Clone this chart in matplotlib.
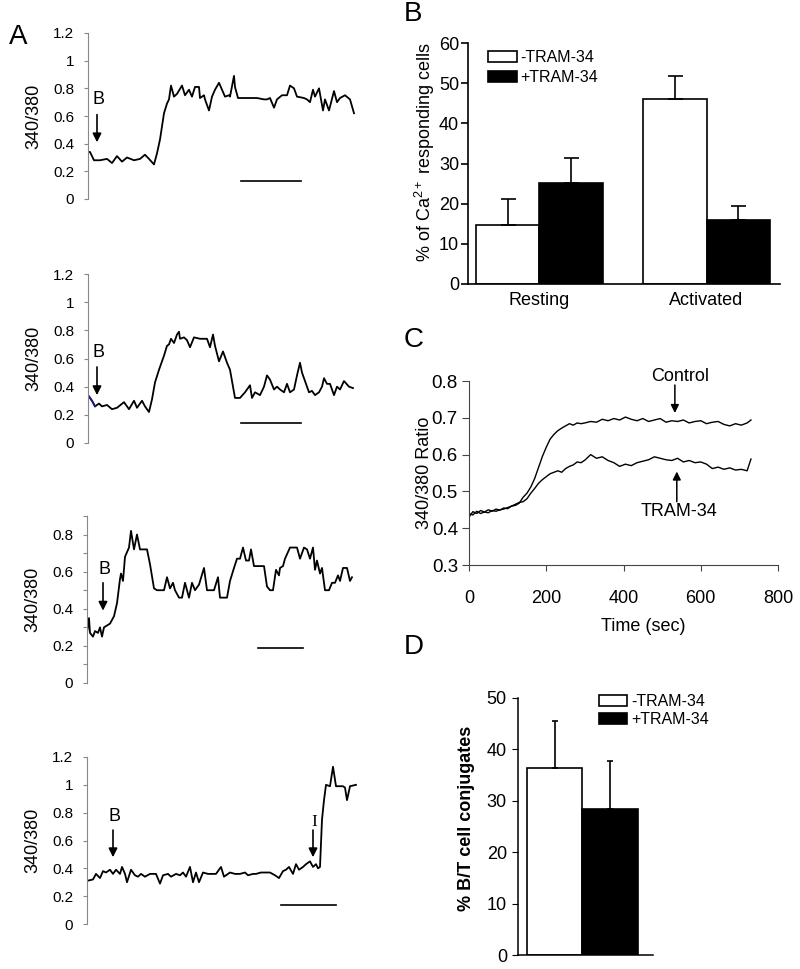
import matplotlib
matplotlib.use('Agg')
import matplotlib.pyplot as plt
from matplotlib.patches import Patch
import numpy as np

plt.rcParams['font.family'] = ['Liberation Sans', 'DejaVu Sans']
plt.rcParams['mathtext.fontset'] = 'custom'
plt.rcParams['mathtext.rm'] = 'Liberation Sans'
plt.rcParams['mathtext.it'] = 'Liberation Sans:italic'
plt.rcParams['mathtext.bf'] = 'Liberation Sans:bold'

# ---- panel A: single cell traces (time in arbitrary units) ----
a1_t = [0, 2, 6, 12, 19, 24, 29, 34, 39, 46, 52, 57, 61, 66, 69, 72, 76, 79, 81, 83,
        86, 89, 94, 97, 101, 104, 107, 111, 112, 116, 117, 121, 124, 127, 131, 134, 137, 141, 142, 146,
        147, 150, 156, 169, 176, 179, 182, 186, 189, 194, 199, 202, 206, 209, 216, 219, 222, 225, 227, 231,
        233, 235, 237, 241, 246, 249, 252, 257, 262, 266]
a1_r = [0.34, 0.34, 0.28, 0.28, 0.29, 0.26, 0.31, 0.27, 0.30, 0.28, 0.29, 0.32, 0.29, 0.25, 0.33, 0.43, 0.62, 0.69, 0.72, 0.82,
        0.74, 0.76, 0.82, 0.75, 0.79, 0.74, 0.81, 0.81, 0.73, 0.75, 0.72, 0.64, 0.74, 0.79, 0.84, 0.79, 0.74, 0.75, 0.74, 0.89,
        0.81, 0.73, 0.73, 0.73, 0.72, 0.72, 0.73, 0.66, 0.72, 0.75, 0.75, 0.82, 0.80, 0.74, 0.73, 0.72, 0.70, 0.79, 0.74, 0.80,
        0.72, 0.64, 0.72, 0.64, 0.78, 0.70, 0.73, 0.75, 0.72, 0.62]

a2_t = [0, 4, 7, 11, 14, 19, 24, 29, 36, 41, 46, 49, 54, 57, 61, 64, 67, 71, 76, 79,
        81, 83, 86, 89, 91, 92, 96, 99, 102, 106, 112, 119, 122, 125, 127, 131, 135, 139, 142, 146,
        147, 152, 157, 162, 164, 167, 172, 176, 179, 182, 186, 189, 192, 196, 199, 202, 206, 209, 212, 214,
        217, 221, 224, 227, 231, 234, 236, 239, 242, 246, 249, 252, 256, 261, 265]
a2_r = [0.34, 0.30, 0.26, 0.28, 0.26, 0.27, 0.24, 0.25, 0.29, 0.24, 0.30, 0.25, 0.30, 0.26, 0.22, 0.31, 0.43, 0.52, 0.62, 0.69,
        0.70, 0.74, 0.71, 0.77, 0.79, 0.74, 0.75, 0.73, 0.68, 0.75, 0.74, 0.74, 0.68, 0.77, 0.69, 0.58, 0.65, 0.57, 0.52, 0.36,
        0.32, 0.32, 0.36, 0.41, 0.32, 0.36, 0.34, 0.40, 0.48, 0.45, 0.38, 0.40, 0.38, 0.36, 0.42, 0.36, 0.38, 0.48, 0.57, 0.50,
        0.44, 0.36, 0.37, 0.34, 0.36, 0.40, 0.46, 0.42, 0.42, 0.34, 0.40, 0.38, 0.44, 0.40, 0.39]

a3_t = [0, 2, 3, 6, 8, 11, 13, 15, 17, 20, 23, 27, 30, 33, 34, 36, 38, 42, 44, 47,
        50, 53, 57, 60, 63, 67, 70, 77, 80, 83, 86, 88, 92, 95, 98, 102, 105, 108, 112, 117,
        120, 127, 131, 133, 140, 143, 147, 150, 153, 156, 159, 162, 164, 167, 173, 177, 180, 183, 186, 189,
        192, 193, 196, 198, 203, 210, 213, 217, 220, 223, 226, 228, 230, 233, 235, 238, 242, 245, 248, 251,
        253, 256, 260, 263, 265]
a3_r = [0.27, 0.35, 0.27, 0.25, 0.28, 0.27, 0.30, 0.25, 0.30, 0.31, 0.32, 0.36, 0.43, 0.56, 0.59, 0.55, 0.68, 0.73, 0.82, 0.72,
        0.80, 0.72, 0.72, 0.72, 0.64, 0.51, 0.50, 0.50, 0.57, 0.51, 0.54, 0.50, 0.46, 0.46, 0.54, 0.46, 0.54, 0.50, 0.53, 0.62,
        0.50, 0.50, 0.57, 0.46, 0.46, 0.55, 0.62, 0.67, 0.67, 0.73, 0.66, 0.66, 0.72, 0.63, 0.63, 0.63, 0.52, 0.50, 0.50, 0.61,
        0.58, 0.62, 0.63, 0.67, 0.73, 0.73, 0.67, 0.73, 0.72, 0.67, 0.73, 0.61, 0.66, 0.59, 0.62, 0.50, 0.50, 0.54, 0.54, 0.58,
        0.55, 0.62, 0.62, 0.55, 0.57]

a4_t = [0, 6, 9, 13, 16, 19, 23, 26, 29, 33, 35, 38, 40, 44, 48, 51, 54, 58, 63, 69,
        73, 76, 81, 84, 89, 93, 96, 99, 103, 106, 109, 112, 116, 121, 126, 129, 134, 137, 143, 148,
        153, 158, 161, 166, 169, 174, 179, 183, 188, 192, 196, 199, 202, 206, 209, 212, 216, 219, 223, 226,
        229, 231, 233, 235, 237, 239, 243, 246, 249, 256, 258, 260, 263, 269]
a4_r = [0.31, 0.32, 0.36, 0.33, 0.38, 0.37, 0.39, 0.36, 0.39, 0.36, 0.41, 0.36, 0.30, 0.39, 0.35, 0.34, 0.36, 0.34, 0.36, 0.36,
        0.29, 0.35, 0.36, 0.34, 0.36, 0.35, 0.37, 0.34, 0.41, 0.30, 0.37, 0.30, 0.37, 0.36, 0.36, 0.36, 0.41, 0.34, 0.37, 0.36,
        0.36, 0.37, 0.35, 0.36, 0.36, 0.37, 0.37, 0.37, 0.35, 0.33, 0.38, 0.39, 0.41, 0.36, 0.43, 0.39, 0.41, 0.43, 0.45, 0.41,
        0.43, 0.40, 0.41, 0.75, 0.89, 1.00, 0.99, 1.13, 0.99, 0.99, 0.98, 0.89, 0.99, 1.00]

# scale bars (t start, t end, level) and arrows (t, tail, tip, label, label level)
a1_bar = (153, 213, 0.13)
a2_bar = (153, 213, 0.14)
a3_bar = (171, 216, 0.19)
a4_bar = (194, 249, 0.135)
a1_arrows = [(9, 0.61, 0.41, 'B', 0.72)]
a2_arrows = [(9, 0.54, 0.34, 'B', 0.645)]
a3_arrows = [(16, 0.54, 0.39, 'B', 0.61)]
a4_arrows = [(26, 0.675, 0.48, 'B', 0.77), (226, 0.675, 0.48, 'I', 0.73)]

# ---- panel B ----
b_groups = ['Resting', 'Activated']
b_minus = [14.7, 46.1]
b_minus_err = [6.4, 5.6]
b_plus = [25.1, 16.0]
b_plus_err = [6.2, 3.3]

# ---- panel C: mean ratio traces ----
c_t = [0, 10, 20, 30, 40, 50, 60, 70, 80, 90, 100, 110, 120, 130, 140, 150, 160, 170, 180, 190,
       200, 210, 220, 230, 240, 250, 260, 270, 280, 290, 300, 315, 330, 345, 360, 375, 390, 405, 420, 435,
       450, 465, 480, 495, 510, 525, 540, 555, 570, 585, 600, 615, 630, 645, 660, 675, 690, 705, 720, 730]
c_control = [0.430, 0.445, 0.440, 0.448, 0.444, 0.450, 0.446, 0.452, 0.449, 0.455, 0.453, 0.460, 0.462, 0.468, 0.484,
             0.495, 0.512, 0.535, 0.565, 0.595, 0.620, 0.642, 0.655, 0.665, 0.672, 0.678, 0.684, 0.680, 0.686, 0.684,
             0.686, 0.690, 0.688, 0.696, 0.692, 0.698, 0.694, 0.702, 0.696, 0.692, 0.698, 0.690, 0.694, 0.698, 0.688,
             0.692, 0.690, 0.694, 0.686, 0.690, 0.692, 0.684, 0.688, 0.690, 0.682, 0.678, 0.684, 0.680, 0.686, 0.694]
c_tram = [0.440, 0.436, 0.446, 0.440, 0.444, 0.442, 0.448, 0.446, 0.450, 0.452, 0.456, 0.460, 0.465, 0.470, 0.472,
          0.480, 0.495, 0.508, 0.522, 0.532, 0.540, 0.548, 0.552, 0.556, 0.552, 0.562, 0.568, 0.572, 0.580, 0.578,
          0.585, 0.600, 0.590, 0.594, 0.584, 0.578, 0.568, 0.574, 0.570, 0.578, 0.582, 0.586, 0.594, 0.590, 0.586,
          0.584, 0.590, 0.580, 0.584, 0.578, 0.580, 0.574, 0.562, 0.566, 0.560, 0.564, 0.558, 0.560, 0.556, 0.588]

# ---- panel D ----
d_minus, d_minus_err = 36.4, 9.2
d_plus, d_plus_err = 28.4, 9.4

W, H = 800, 969
fig = plt.figure(figsize=(W / 100, H / 100), dpi=100)


def place(x0, y0, x1, y1):
    return fig.add_axes([x0 / W, 1 - y1 / H, (x1 - x0) / W, (y1 - y0) / H])


def trace(box, t, r, top, step, labelled, bar, arrows):
    ax = place(*box)
    ax.plot(t, r, color='k', lw=1.3)
    ax.plot([bar[0], bar[1]], [bar[2], bar[2]], color='k', lw=1.2)
    for ta, tail, tip, lab, ly in arrows:
        ax.annotate('', xy=(ta, tip), xytext=(ta, tail),
                    arrowprops=dict(arrowstyle='-|>', color='k', lw=1.2, mutation_scale=13,
                                    shrinkA=0, shrinkB=0))
        if lab == 'I':
            ax.text(ta + 1, ly, lab, ha='center', va='center', fontsize=12.5,
                    family='Liberation Serif')
        else:
            ax.text(ta + 1, ly, lab, ha='center', va='center', fontsize=13)
    ax.set_xlim(0, 275)
    ax.set_ylim(0, top)
    ticks = np.round(np.arange(0, top + 1e-6, step), 2)
    ax.set_yticks(ticks)
    ax.set_yticklabels([f'{v:g}' if v in labelled else '' for v in ticks])
    for s in ['top', 'right', 'bottom']:
        ax.spines[s].set_visible(False)
    ax.spines['left'].set_color('#888888')
    ax.tick_params(axis='y', direction='out', length=3, color='#888888', labelsize=11, pad=7)
    ax.set_xticks([])
    ax.set_ylabel('340/380', fontsize=13)
    ax.yaxis.set_label_coords(-0.167, 0.5)
    return ax


lab12 = [0, 0.2, 0.4, 0.6, 0.8, 1.0, 1.2]
trace((88, 33, 363, 199), a1_t, a1_r, 1.2, 0.2, lab12, a1_bar, a1_arrows)
ax2 = trace((88, 274, 363, 443), a2_t, a2_r, 1.2, 0.2, lab12, a2_bar, a2_arrows)
ax2.plot(a2_t[:3], a2_r[:3], color='#1a1a8c', lw=1.3)
trace((87, 516, 362, 683), a3_t, a3_r, 0.9, 0.1, [0, 0.2, 0.4, 0.6, 0.8], a3_bar, a3_arrows)
trace((87, 757, 362, 924), a4_t, a4_r, 1.2, 0.2, lab12, a4_bar, a4_arrows)

# ---- B ----
axb = place(468, 43, 780, 284)
x = np.arange(len(b_groups))
w = 0.383
axb.bar(x - w / 2, b_minus, w, color='white', edgecolor='k', lw=1.2, label='-TRAM-34')
axb.bar(x + w / 2, b_plus, w, color='k', edgecolor='k', lw=1.2, label='+TRAM-34')
axb.errorbar(x - w / 2, b_minus, yerr=[[0, 0], b_minus_err], fmt='none', ecolor='k',
             elinewidth=1.2, capsize=5.4, capthick=1.2, zorder=3)
axb.errorbar(x + w / 2, b_plus, yerr=[[0, 0], b_plus_err], fmt='none', ecolor='k',
             elinewidth=1.2, capsize=5.4, capthick=1.2, zorder=3)
axb.set_xlim(-0.428, 1.44)
axb.set_ylim(0, 60)
axb.set_yticks(range(0, 61, 10))
axb.set_xticks(x)
axb.set_xticklabels(b_groups)
axb.tick_params(axis='x', length=0, labelsize=13, pad=6)
axb.tick_params(axis='y', direction='out', length=5, width=1.2, labelsize=13, pad=1.5)
for s in ['top', 'right']:
    axb.spines[s].set_visible(False)
for s in ['left', 'bottom']:
    axb.spines[s].set_linewidth(1.2)
axb.set_ylabel(r'% of Ca$^{2+}$ responding cells', fontsize=13)
axb.yaxis.set_label_coords(-0.099, 0.548)
axb.legend(handles=[Patch(facecolor='white', edgecolor='k', lw=1.2, label='-TRAM-34'),
                    Patch(facecolor='k', edgecolor='k', lw=1.2, label='+TRAM-34')],
           loc='upper left', bbox_to_anchor=(488 / W, 1 - 50 / H), bbox_transform=fig.transFigure,
           frameon=False, fontsize=11.5, handlelength=1.8, handleheight=0.69,
           handletextpad=0.25, labelspacing=0.3, borderpad=0, borderaxespad=0)

# ---- C ----
axc = place(469, 381, 778, 565)
axc.plot(c_t, c_control, color='k', lw=1.0)
axc.plot(c_t, c_tram, color='k', lw=1.0)
axc.annotate('', xy=(533, 0.713), xytext=(533, 0.789),
             arrowprops=dict(arrowstyle='-|>', color='k', lw=1.1, mutation_scale=12, shrinkA=0, shrinkB=0))
axc.text(546, 0.812, 'Control', ha='center', va='center', fontsize=13)
axc.annotate('', xy=(538, 0.554), xytext=(538, 0.472),
             arrowprops=dict(arrowstyle='-|>', color='k', lw=1.1, mutation_scale=12, shrinkA=0, shrinkB=0))
axc.text(544, 0.445, 'TRAM-34', ha='center', va='center', fontsize=13)
axc.set_xlim(0, 800)
axc.set_ylim(0.3, 0.8)
axc.set_xticks(range(0, 801, 200))
axc.set_yticks(np.round(np.arange(0.3, 0.81, 0.1), 1))
axc.set_yticklabels([f'{v:.1f}' for v in np.arange(0.3, 0.81, 0.1)])
for s in ['top', 'right']:
    axc.spines[s].set_visible(False)
for s in ['left', 'bottom']:
    axc.spines[s].set_color('#444444')
axc.tick_params(axis='y', direction='out', length=5, color='#444444', labelsize=13.5, pad=3)
axc.tick_params(axis='x', direction='out', length=4, color='#444444', labelsize=13, pad=14)
axc.set_xlabel('Time (sec)', fontsize=13)
axc.xaxis.set_label_coords(0.563, -0.29)
axc.set_ylabel('340/380 Ratio', fontsize=13)
axc.yaxis.set_label_coords(-0.117, 0.5)

# ---- D ----
axd = place(518, 698, 653, 955)
axd.bar([0], [d_minus], 1, color='white', edgecolor='k', lw=1.2)
axd.bar([1], [d_plus], 1, color='k', edgecolor='k', lw=1.2)
axd.errorbar([0, 1], [d_minus, d_plus], yerr=[[0, 0], [d_minus_err, d_plus_err]], fmt='none',
             ecolor='k', elinewidth=1.2, capsize=2.4, capthick=1.2, zorder=3)
axd.set_xlim(-0.67, 1.78)
axd.set_ylim(0, 50)
axd.set_yticks(range(0, 51, 10))
axd.set_xticks([])
for s in ['top', 'right']:
    axd.spines[s].set_visible(False)
for s in ['left', 'bottom']:
    axd.spines[s].set_linewidth(1.1)
axd.tick_params(axis='y', direction='out', length=4, labelsize=13, pad=4)
axd.set_ylabel('% B/T cell conjugates', fontsize=13, fontweight='bold')
axd.yaxis.set_label_coords(-0.32, 0.53)
axd.legend(handles=[Patch(facecolor='white', edgecolor='k', lw=1.2, label='-TRAM-34'),
                    Patch(facecolor='k', edgecolor='k', lw=1.2, label='+TRAM-34')],
           loc='upper left', bbox_to_anchor=(599 / W, 1 - 694 / H), bbox_transform=fig.transFigure,
           frameon=False, fontsize=11.5, handlelength=1.75, handleheight=0.62,
           handletextpad=0.25, labelspacing=0.2, borderpad=0, borderaxespad=0)

# panel letters
for lab, px, py in [('A', 18, 37), ('B', 413, 14), ('C', 414, 340), ('D', 414, 647)]:
    fig.text(px / W, 1 - py / H, lab, ha='center', va='center', fontsize=20)

fig.savefig('out.png', dpi=100)
